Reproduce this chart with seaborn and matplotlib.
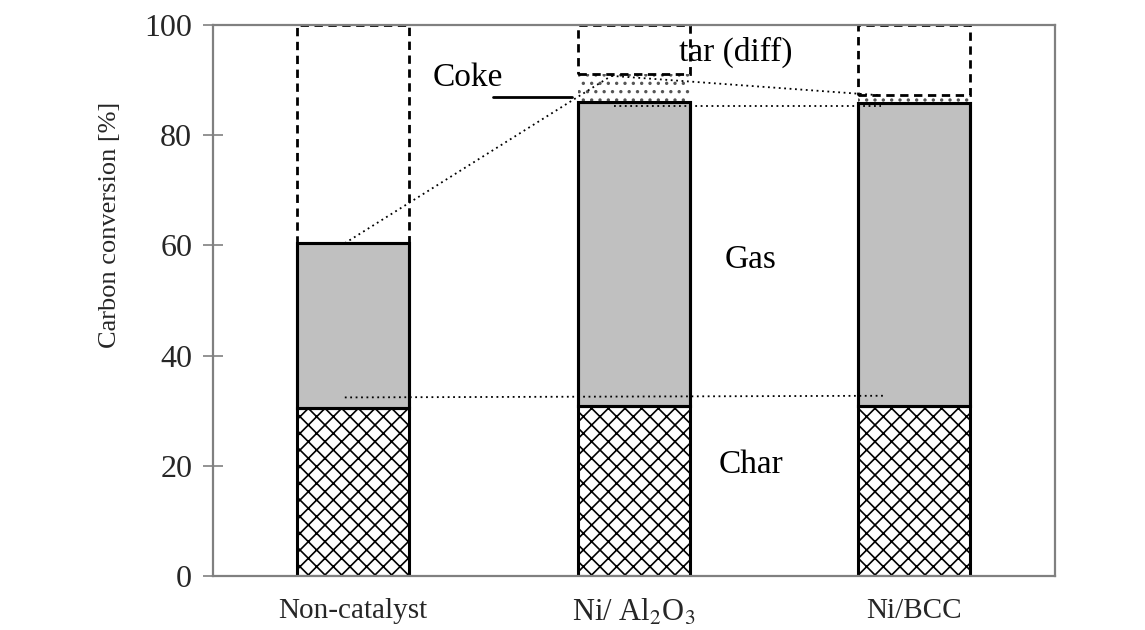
import matplotlib
matplotlib.use("Agg")
import matplotlib.pyplot as plt
import seaborn as sns
import numpy as np

categories = ["Non-catalyst", "Ni/ Al$_2$O$_3$", "Ni/BCC"]
char = [30.5, 30.9, 30.8]
gas = [29.9, 55.1, 55.0]
coke = [0.0, 5.1, 1.5]
tar_diff = [39.6, 8.9, 12.7]

sns.set_theme(style="white")
plt.rcParams["font.family"] = ["Liberation Serif", "DejaVu Serif"]
plt.rcParams["mathtext.fontset"] = "stix"
plt.rcParams["hatch.linewidth"] = 1.2

fig = plt.figure(figsize=(11.45, 6.3), dpi=100)
ax = fig.add_axes([0.186, 0.086, 0.735, 0.874])

char_a = np.array(char)
gas_a = np.array(gas)
coke_a = np.array(coke)
tar_a = np.array(tar_diff)

# Char
sns.barplot(x=categories, y=char_a, ax=ax, color="white", saturation=1,
            width=0.4, edgecolor="black", linewidth=2.2, hatch="xx", errorbar=None)
# Gas
sns.barplot(x=categories, y=gas_a, bottom=char_a, ax=ax, color="#c0c0c0", saturation=1,
            width=0.4, edgecolor="black", linewidth=2.2, errorbar=None)
# Coke
sns.barplot(x=categories, y=coke_a, bottom=char_a + gas_a, ax=ax, color="white", saturation=1,
            width=0.4, edgecolor="#555555", linewidth=0, hatch="..", errorbar=None)
# Tar (diff)
sns.barplot(x=categories, y=tar_a, bottom=char_a + gas_a + coke_a, ax=ax, color="none",
            saturation=1, width=0.4, edgecolor="black", linewidth=2.0, linestyle=(0, (3, 2)),
            errorbar=None)

# redraw gas outline solid on top
sns.barplot(x=categories, y=gas_a, bottom=char_a, ax=ax, color="none", saturation=1,
            width=0.4, edgecolor="black", linewidth=2.2, errorbar=None)

# dotted guide lines
dot = dict(color="black", linestyle=(0, (1, 2)), linewidth=1.3)
ax.plot([-0.03, 1.89], [32.4, 32.7], **dot)
ax.plot([-0.03, 0.92], [60.4, 90.8], **dot)
ax.plot([0.92, 1.87], [90.8, 87.3], **dot)
ax.plot([0.93, 1.88], [85.3, 85.3], **dot)
# coke leader
ax.plot([0.497, 0.781], [86.9, 86.9], color="black", linewidth=2.0)

ann_font = dict(family=["Liberation Serif", "DejaVu Serif"], fontsize=24, color="black")
ax.text(0.283, 90.5, "Coke", ha="left", va="center", **ann_font)
ax.text(1.163, 95.1, "tar (diff)", ha="left", va="center", **ann_font)
ax.text(1.415, 57.4, "Gas", ha="center", va="center", **ann_font)
ax.text(1.418, 20.1, "Char", ha="center", va="center", **ann_font)

ax.set_xlim(-0.5, 2.5)
ax.set_ylim(0, 100)
ax.set_yticks([0, 20, 40, 60, 80, 100])
ax.set_ylabel("Carbon conversion [%]", fontsize=19)
ax.yaxis.set_label_coords(-0.109, 0.637)
ax.set_xlabel("")

ax.set_xticks([0, 1, 2])
ax.set_xticklabels(categories)
for i, lab in enumerate(ax.get_xticklabels()):
    lab.set_fontsize(22 if i == 1 else 21)
ax.tick_params(axis="x", which="major", length=0, pad=16)
ax.set_xticks([-0.5, 0.5, 1.5, 2.5], minor=True)
ax.tick_params(axis="x", which="minor", direction="inout", length=12, width=1.2, color="#808080")
ax.tick_params(axis="y", which="major", direction="inout", length=14, width=1.2,
               color="#808080", labelsize=23, pad=8, left=True)

for s in ax.spines.values():
    s.set_visible(True)
    s.set_color("#808080")
    s.set_linewidth(1.6)

fig.savefig("out.png", dpi=100, facecolor="white")
